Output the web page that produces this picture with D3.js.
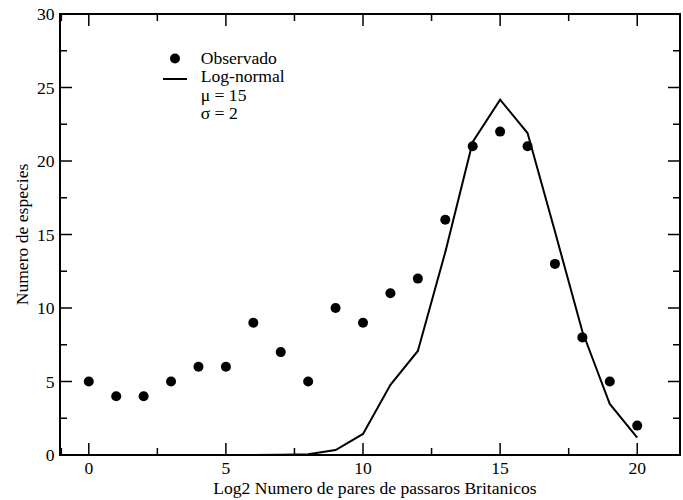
<!DOCTYPE html>
<html>
<head>
<meta charset="utf-8">
<script src="https://cdn.jsdelivr.net/npm/d3@7"></script>
<style>
  body { margin: 0; background: #fff; }
  svg text { font-family: "Liberation Serif", "Times New Roman", Times, serif; fill: #000; }
</style>
</head>
<body>
<div id="chart"></div>
<script>
// data
const xs = [0, 1, 2, 3, 4, 5, 6, 7, 8, 9, 10, 11, 12, 13, 14, 15, 16, 17, 18, 19, 20];
const observado = [5, 4, 4, 5, 6, 6, 9, 7, 5, 10, 9, 11, 12, 16, 21, 22, 21, 13, 8, 5, 2];
const lognormal = [0, 0, 0, 0, 0, 0, 0, 0.01, 0.05, 0.34, 1.43, 4.77, 7.08, 13.8, 21.3, 24.17, 21.9, 15.2, 8.4, 3.47, 1.18];
const xMajor = [0, 5, 10, 15, 20];
const xMinor = [-1, 2.5, 7.5, 12.5, 17.5];
const yMajor = [0, 5, 10, 15, 20, 25, 30];
const yMinor = [2.5, 7.5, 12.5, 17.5, 22.5, 27.5];

const W = 683, H = 500;
const pLeft = 60, pRight = 680, pTop = 14, pBottom = 455;
const fs = 17.6;

const svg = d3.select("#chart").append("svg")
  .attr("width", W).attr("height", H);

const x = d3.scaleLinear().domain([-1.05, 21.56]).range([pLeft, pRight]);
const y = d3.scaleLinear().domain([0, 30]).range([pBottom, pTop]);

// ticks, all pointing inward
const tickG = svg.append("g").attr("stroke", "#000").attr("stroke-width", 1.5);
xMajor.forEach(v => {
  tickG.append("line").attr("x1", x(v)).attr("x2", x(v)).attr("y1", pBottom).attr("y2", pBottom - 12);
  tickG.append("line").attr("x1", x(v)).attr("x2", x(v)).attr("y1", pTop).attr("y2", pTop + 12);
});
xMinor.filter(v => x(v) > pLeft + 1).forEach(v => {
  tickG.append("line").attr("x1", x(v)).attr("x2", x(v)).attr("y1", pBottom).attr("y2", pBottom - 7);
  tickG.append("line").attr("x1", x(v)).attr("x2", x(v)).attr("y1", pTop).attr("y2", pTop + 7);
});
yMajor.forEach(v => {
  tickG.append("line").attr("x1", pLeft).attr("x2", pLeft + 12).attr("y1", y(v)).attr("y2", y(v));
  tickG.append("line").attr("x1", pRight).attr("x2", pRight - 12).attr("y1", y(v)).attr("y2", y(v));
});
yMinor.forEach(v => {
  tickG.append("line").attr("x1", pLeft).attr("x2", pLeft + 7).attr("y1", y(v)).attr("y2", y(v));
  tickG.append("line").attr("x1", pRight).attr("x2", pRight - 7).attr("y1", y(v)).attr("y2", y(v));
});

// frame
svg.append("rect")
  .attr("x", pLeft).attr("y", pTop)
  .attr("width", pRight - pLeft).attr("height", pBottom - pTop)
  .attr("fill", "none").attr("stroke", "#000").attr("stroke-width", 2);

// tick labels
svg.append("g").selectAll("text").data(xMajor).join("text")
  .attr("x", d => x(d)).attr("y", pBottom + 18.5)
  .attr("text-anchor", "middle").attr("font-size", fs)
  .text(d => d);
svg.append("g").selectAll("text").data(yMajor).join("text")
  .attr("x", 54.5).attr("y", d => y(d) + 6)
  .attr("text-anchor", "end").attr("font-size", fs)
  .text(d => d);

// axis titles
svg.append("text")
  .attr("x", (pLeft + pRight) / 2 + 5).attr("y", 493.5)
  .attr("text-anchor", "middle").attr("font-size", fs)
  .text("Log2 Numero de pares de passaros Britanicos");
svg.append("text")
  .attr("transform", `translate(28, ${(pTop + pBottom) / 2}) rotate(-90)`)
  .attr("text-anchor", "middle").attr("font-size", fs)
  .text("Numero de especies");

// log-normal line
const line = d3.line().x((d, i) => x(xs[i])).y(d => y(d));
svg.append("path")
  .datum(lognormal)
  .attr("d", line)
  .attr("fill", "none").attr("stroke", "#000").attr("stroke-width", 2);

// observed dots
svg.append("g").selectAll("circle").data(observado).join("circle")
  .attr("cx", (d, i) => x(xs[i]))
  .attr("cy", d => y(d))
  .attr("r", 5)
  .attr("fill", "#000");

// legend
const lg = svg.append("g");
lg.append("circle").attr("cx", 175).attr("cy", 58.5).attr("r", 5).attr("fill", "#000");
lg.append("line").attr("x1", 163).attr("x2", 187).attr("y1", 79).attr("y2", 79)
  .attr("stroke", "#000").attr("stroke-width", 2);
const legendText = ["Observado", "Log-normal", "\u03bc = 15", "\u03c3 = 2"];
lg.selectAll("text").data(legendText).join("text")
  .attr("x", 200.7).attr("y", (d, i) => 64 + i * 18.3)
  .attr("font-size", fs)
  .text(d => d);
</script>
</body>
</html>
